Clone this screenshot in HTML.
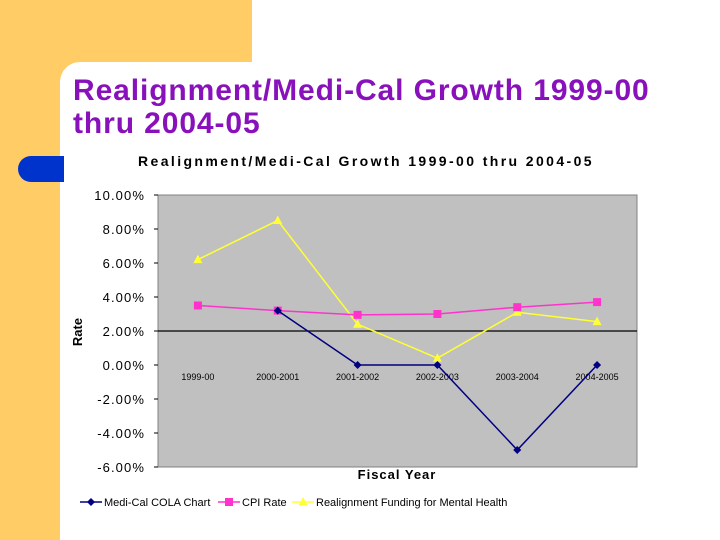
<!DOCTYPE html>
<html><head><meta charset="utf-8"><style>
body{margin:0;width:720px;height:540px;overflow:hidden;background:#fff;font-family:"Liberation Sans",sans-serif;position:relative}
.a{position:absolute}
</style></head><body>
<div class="a" style="left:0;top:0;width:60px;height:540px;background:#ffcc66"></div>
<div class="a" style="left:0;top:0;width:252px;height:80px;background:#ffcc66"></div>
<div class="a" style="left:60px;top:62px;width:660px;height:478px;background:#fff;border-top-left-radius:20px"></div>
<div class="a" style="left:18px;top:156px;width:46px;height:26px;background:#0033cc;border-radius:13px 0 0 13px"></div>
<div class="a" style="left:73px;top:74px;font-size:30px;line-height:33px;color:#8811bb;font-weight:bold;white-space:nowrap;letter-spacing:0.9px">Realignment/Medi-Cal Growth 1999-00<br>thru 2004-05</div>
<svg class="a" style="left:0;top:0" width="720" height="540" id="chart"></svg>
<script>
const categories=["1999-00","2000-2001","2001-2002","2002-2003","2003-2004","2004-2005"];
const yTicks=[10,8,6,4,2,0,-2,-4,-6];
const mediCal=[null,3.2,0,0,-5,0];
const cpi=[3.5,3.2,2.95,3.0,3.4,3.7];
const realign=[6.2,8.5,2.4,0.4,3.1,2.55];
const svg=document.getElementById('chart');
const NS="http://www.w3.org/2000/svg";
const L=158,R=637,T=195,B=467;
const x=i=>L+(R-L)/categories.length*(i+0.5);
const y=v=>T+(10-v)/16*(B-T);
function mk(tag,at,name){const e=document.createElementNS(NS,tag);for(const k in at)e.setAttribute(k,at[k]);


svg.appendChild(e);return e;}
function txt(s,at,name){const e=mk('text',at,name);e.textContent=s;return e;}
txt("Realignment/Medi-Cal Growth 1999-00 thru 2004-05",{x:366,y:166,'font-size':14,'font-weight':'bold','text-anchor':'middle','letter-spacing':'2.4'},'chart-title');
mk('rect',{x:L,y:T,width:R-L,height:B-T,fill:'#c0c0c0',stroke:'#808080'},'plot-area');
yTicks.forEach(v=>{txt(v.toFixed(2)+"%",{x:145,y:y(v)+5,'font-size':13,'text-anchor':'end','letter-spacing':'1.1'},'y-tick-label');
mk('line',{x1:L-4,x2:L,y1:y(v),y2:y(v),stroke:'#000'},'y-tick');});
mk('line',{x1:L,x2:R,y1:y(2),y2:y(2),stroke:'#000','stroke-width':1.2},'x-axis-line');
categories.forEach((c,i)=>txt(c,{x:x(i),y:380,'font-size':9,'text-anchor':'middle'},'x-tick-label'));
txt("Rate",{x:0,y:0,'font-size':13,'font-weight':'bold',transform:'translate(82,332) rotate(-90)','text-anchor':'middle'},'y-axis-title');
txt("Fiscal Year",{x:397,y:479,'font-size':13,'font-weight':'bold','text-anchor':'middle','letter-spacing':'1'},'x-axis-title');
function marker(t,cx,cy,col,name){
 if(t==='d')mk('polygon',{points:`${cx},${cy-4} ${cx+4},${cy} ${cx},${cy+4} ${cx-4},${cy}`,fill:col},name);
 else if(t==='s')mk('rect',{x:cx-4,y:cy-4,width:8,height:8,fill:col},name);
 else mk('polygon',{points:`${cx},${cy-5} ${cx+4.5},${cy+3.5} ${cx-4.5},${cy+3.5}`,fill:col},name);}
function series(d,col,t,name){
 let pts=[];d.forEach((v,i)=>{if(v!==null)pts.push([x(i),y(v)]);});
 mk('polyline',{points:pts.map(p=>p.join(',')).join(' '),fill:'none',stroke:col,'stroke-width':1.5},name+'-line');
 pts.forEach(p=>marker(t,p[0],p[1],col,name+'-point'));}
series(realign,'#ffff33','t','realignment');
series(cpi,'#ff33cc','s','cpi');
series(mediCal,'#000080','d','medi-cal');
const leg=[["Medi-Cal COLA Chart",'#000080','d',80],["CPI Rate",'#ff33cc','s',218],["Realignment Funding for Mental Health",'#ffff33','t',292]];
leg.forEach(l=>{mk('line',{x1:l[3],x2:l[3]+22,y1:502,y2:502,stroke:l[1],'stroke-width':1.5},'legend-line');
marker(l[2],l[3]+11,502,l[1],'legend-marker');
txt(l[0],{x:l[3]+24,y:506,'font-size':11},'legend-entry');});
</script>
</body></html>
